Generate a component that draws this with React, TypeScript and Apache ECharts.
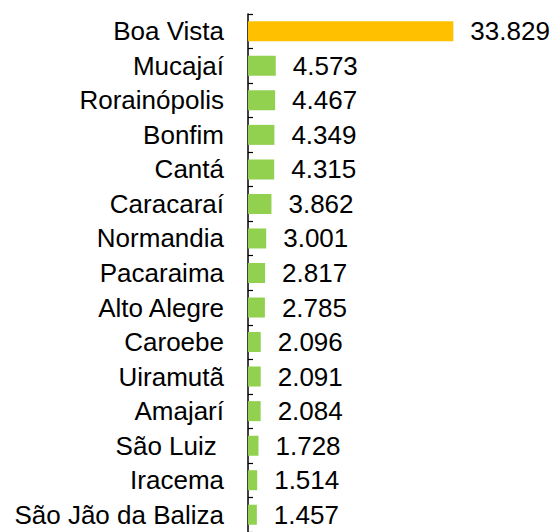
import React, { useEffect, useRef } from "react";
import * as echarts from "echarts";

const categories = [
  "Boa Vista",
  "Mucajaí",
  "Rorainópolis",
  "Bonfim",
  "Cantá",
  "Caracaraí",
  "Normandia",
  "Pacaraima",
  "Alto Alegre",
  "Caroebe",
  "Uiramutã",
  "Amajarí",
  "São Luiz ",
  "Iracema",
  "São Jão da Baliza",
];

const values = [
  33829, 4573, 4467, 4349, 4315, 3862, 3001, 2817, 2785, 2096, 2091, 2084, 1728,
  1514, 1457,
];

const highlightCategory = "Boa Vista";
const highlightColor = "#FFC000";
const baseColor = "#92D050";

const fmt = (v: number) => {
  const s = String(Math.round(v));
  return s.replace(/\B(?=(\d{3})+(?!\d))/g, ".");
};

export default function App() {
  const ref = useRef<HTMLDivElement>(null);
  useEffect(() => {
    if (!ref.current) return;
    const chart = echarts.init(ref.current, undefined, { renderer: "svg" });
    const font = "'Liberation Sans', Arial, sans-serif";
    chart.setOption({
      animation: false,
      grid: { left: 248, top: 14, width: 303.5, height: 522, containLabel: false },
      xAxis: {
        type: "value",
        min: 0,
        max: 50000,
        show: false,
      },
      yAxis: {
        type: "category",
        inverse: true,
        data: categories,
        axisLine: { show: true, lineStyle: { color: "#000", width: 1.5 } },
        axisTick: { show: true, inside: true, length: 5, lineStyle: { color: "#000", width: 1.2 } },
        axisLabel: {
          margin: 24,
          color: "#000",
          fontSize: 26,
          fontFamily: font,
        },
        splitLine: { show: false },
      },
      series: [
        {
          type: "bar",
          barWidth: 20,
          data: values.map((v, i) => ({
            value: v,
            itemStyle: { color: categories[i] === highlightCategory ? highlightColor : baseColor },
          })),
          label: {
            show: true,
            position: "right",
            distance: 17,
            color: "#000",
            fontSize: 26,
            fontFamily: font,
            formatter: (p: any) => fmt(p.value),
          },
        },
      ],
    });
    return () => chart.dispose();
  }, []);
  return <div ref={ref} style={{ width: 553, height: 532, position: "absolute", left: 0, top: 0 }} />;
}
